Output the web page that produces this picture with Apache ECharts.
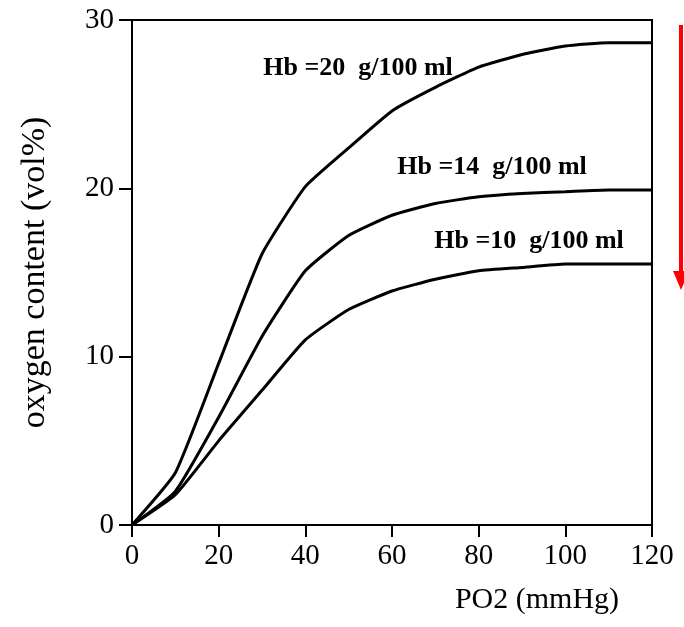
<!DOCTYPE html>
<html>
<head>
<meta charset="utf-8">
<script src="https://cdn.jsdelivr.net/npm/echarts@6/dist/echarts.min.js"></script>
<style>html,body{margin:0;padding:0;background:#fff}#c{width:684px;height:627px}</style>
</head>
<body>
<div id="c"></div>
<script>
const po2 = [0, 10, 20, 30, 40, 50, 60, 70, 80, 90, 100, 110, 120];
const hb20 = [0, 3.1, 9.6, 16.1, 20.1, 22.4, 24.6, 26.0, 27.2, 27.95, 28.45, 28.65, 28.65];
const hb14 = [0, 2.0, 6.4, 11.2, 15.1, 17.2, 18.4, 19.1, 19.5, 19.7, 19.8, 19.9, 19.9];
const hb10 = [0, 1.8, 5.0, 8.0, 11.0, 12.8, 13.9, 14.6, 15.1, 15.3, 15.5, 15.5, 15.5];
const labels = ['Hb =20  g/100 ml', 'Hb =14  g/100 ml', 'Hb =10  g/100 ml'];
const xTitle = 'PO2 (mmHg)';
const yTitle = 'oxygen content (vol%)';

const FONT = "'Liberation Serif', 'Times New Roman', serif";
const chart = echarts.init(document.getElementById('c'));
const pairs = arr => po2.map((x, i) => [x, arr[i]]);
const lineSeries = arr => ({
  type: 'line', data: pairs(arr), symbol: 'none', smooth: 0.15,
  lineStyle: { color: '#000', width: 3 }, z: 5
});
chart.setOption({
  backgroundColor: '#fff',
  animation: false,
  grid: { left: 132, right: 32, top: 20, bottom: 102, show: true, borderColor: '#000', borderWidth: 2, backgroundColor: 'transparent' },
  xAxis: {
    type: 'value', min: 0, max: 120, interval: 20,
    name: xTitle, nameLocation: 'middle', nameGap: 60,
    nameTextStyle: { fontFamily: FONT, fontSize: 30, color: '#000', padding: [0, 0, 0, 290] },
    axisLine: { show: true, lineStyle: { color: '#000', width: 2 } },
    axisTick: { show: true, inside: false, length: 12, lineStyle: { color: '#000', width: 2 } },
    axisLabel: { fontFamily: FONT, fontSize: 29, color: '#000', margin: 17 },
    splitLine: { show: false }
  },
  yAxis: {
    type: 'value', min: 0, max: 30, interval: 10,
    name: yTitle, nameLocation: 'middle', nameGap: 80,
    nameTextStyle: { fontFamily: FONT, fontSize: 34, color: '#000' },
    axisLine: { show: true, lineStyle: { color: '#000', width: 2 } },
    axisTick: { show: true, inside: false, length: 13, lineStyle: { color: '#000', width: 2 } },
    axisLabel: { fontFamily: FONT, fontSize: 29, color: '#000', margin: 18 },
    splitLine: { show: false }
  },
  series: [lineSeries(hb20), lineSeries(hb14), lineSeries(hb10)],
  graphic: [
    { type: 'text', x: 358, y: 68, style: { text: labels[0], font: "bold 26px " + FONT, fill: '#000', textAlign: 'center', textVerticalAlign: 'middle' } },
    { type: 'text', x: 492, y: 167, style: { text: labels[1], font: "bold 26px " + FONT, fill: '#000', textAlign: 'center', textVerticalAlign: 'middle' } },
    { type: 'text', x: 529, y: 241, style: { text: labels[2], font: "bold 26px " + FONT, fill: '#000', textAlign: 'center', textVerticalAlign: 'middle' } },
    { type: 'line', shape: { x1: 681, y1: 25, x2: 681, y2: 274 }, style: { stroke: '#ff0000', lineWidth: 4 } },
    { type: 'polygon', shape: { points: [[673, 271], [689, 271], [681, 290]] }, style: { fill: '#ff0000' } }
  ]
});
</script>
</body>
</html>
